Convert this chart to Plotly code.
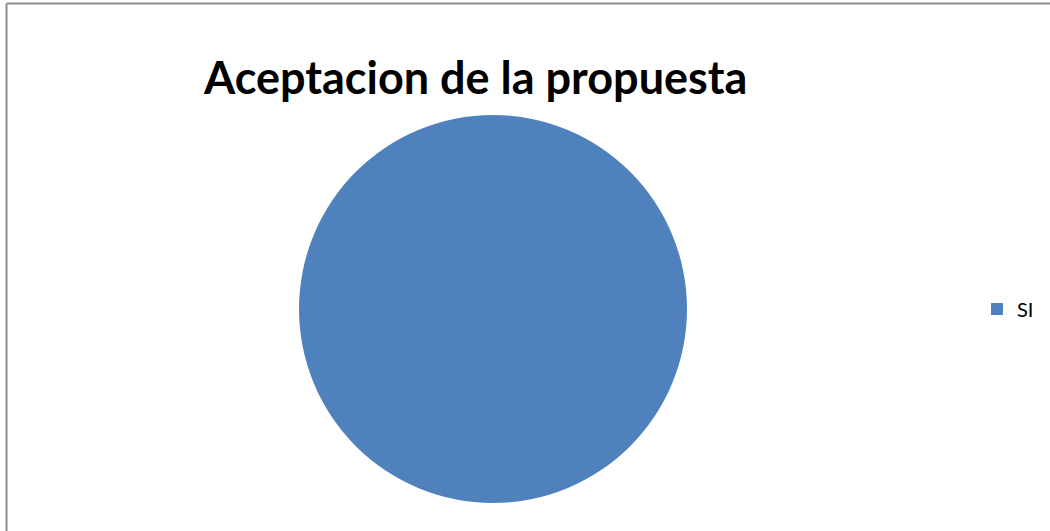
import plotly.graph_objects as go

# Survey result: share of respondents accepting the proposal
labels = ["SI"]
values = [100]
colors = ["#4F81BD"]

W, H = 1050, 531

fig = go.Figure(
    go.Pie(
        labels=labels,
        values=values,
        marker=dict(colors=colors, line=dict(width=0)),
        textinfo="none",
        hoverinfo="label+percent",
        sort=False,
        domain=dict(x=[299 / W, 687 / W], y=[1 - 503 / H, 1 - 115 / H]),
    )
)

# Chart-frame edges (top and left)
frame = dict(color="#8c8c8c", width=2)
shapes = [
    dict(type="line", xref="paper", yref="paper",
         x0=6.5 / W, x1=1.2, y0=1 - 3.5 / H, y1=1 - 3.5 / H, line=frame),
    dict(type="line", xref="paper", yref="paper",
         x0=6.5 / W, x1=6.5 / W, y0=-0.2, y1=1 - 3.5 / H, line=frame),
]

fig.update_layout(
    width=W,
    height=H,
    margin=dict(l=0, r=0, t=0, b=0),
    paper_bgcolor="white",
    plot_bgcolor="white",
    shapes=shapes,
    annotations=[
        dict(
            text="<b>Aceptacion de la propuesta</b>",
            xref="paper", yref="paper",
            x=475 / W, y=1 - 77 / H,
            xanchor="center", yanchor="middle",
            showarrow=False,
            font=dict(family="Lato", size=45, color="black"),
        )
    ],
    showlegend=True,
    legend=dict(
        x=977 / W, y=1 - 309 / H,
        xanchor="left", yanchor="middle",
        font=dict(family="Lato", size=20, color="black"),
        itemwidth=30,
        bgcolor="rgba(0,0,0,0)",
    ),
)

fig.write_html("out.html")
